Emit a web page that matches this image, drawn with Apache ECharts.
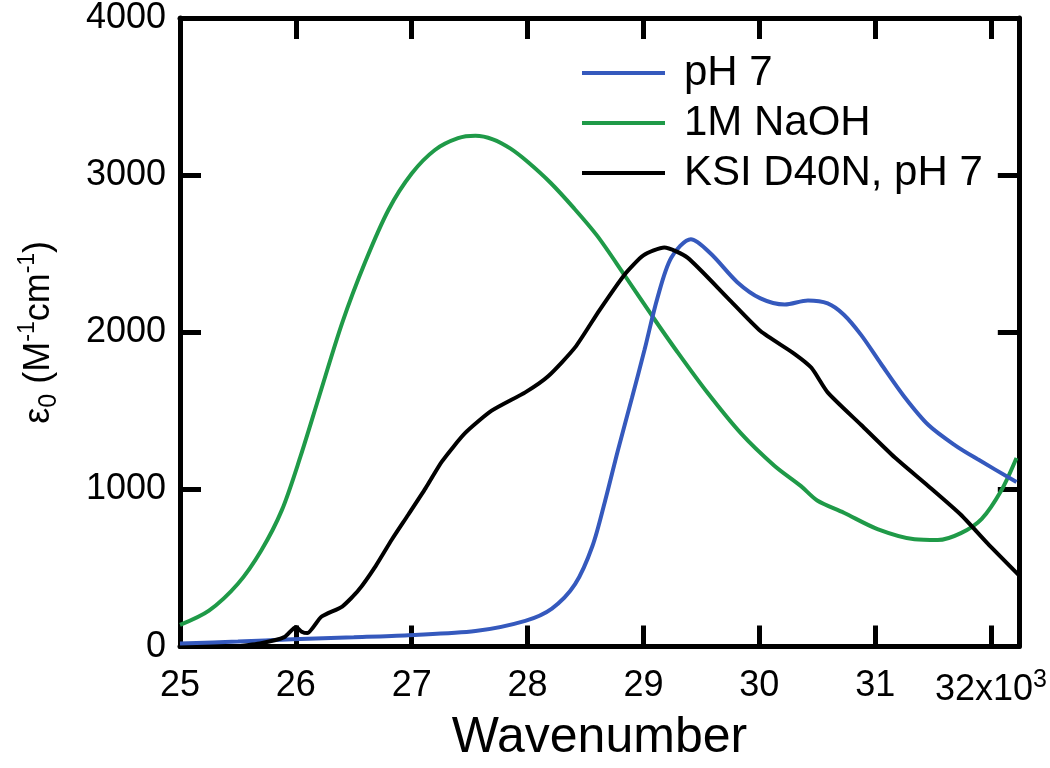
<!DOCTYPE html>
<html>
<head>
<meta charset="utf-8">
<script src="https://cdn.jsdelivr.net/npm/echarts@6/dist/echarts.min.js"></script>
<style>html,body{margin:0;padding:0;background:#fff}#c{width:1050px;height:768px}</style>
</head>
<body>
<div id="c"></div>
<script>
// Data (wavenumber in 10^3 cm^-1, epsilon in M^-1 cm^-1)
const seriesNames = ['pH 7', '1M NaOH', 'KSI D40N, pH 7'];
const xTicks = [25, 26, 27, 28, 29, 30, 31, 32];
const yTicks = [0, 1000, 2000, 3000, 4000];

const ph7X = [25.0, 25.5, 25.97, 26.5, 26.97, 27.55, 27.98, 28.21, 28.41, 28.56, 28.67, 28.78, 28.9, 29.01, 29.12, 29.24, 29.41, 29.58, 29.81, 30.01, 30.22, 30.42, 30.59, 30.73, 30.88, 31.05, 31.25, 31.46, 31.69, 31.89, 32.22];
const ph7Y = [20, 32, 47, 60, 73, 99, 164, 242, 397, 640, 930, 1250, 1580, 1890, 2216, 2475, 2592, 2501, 2319, 2216, 2177, 2203, 2184, 2112, 1982, 1800, 1592, 1410, 1281, 1190, 1047];

const naohX = [25.0, 25.25, 25.5, 25.7, 25.88, 26.04, 26.2, 26.4, 26.6, 26.8, 27.0, 27.2, 27.4, 27.55, 27.7, 27.85, 28.0, 28.2, 28.4, 28.6, 28.83, 29.08, 29.29, 29.55, 29.84, 30.13, 30.36, 30.5, 30.73, 31.02, 31.34, 31.54, 31.74, 31.92, 32.09, 32.22];
const naohY = [138, 229, 400, 610, 870, 1210, 1590, 2060, 2450, 2780, 3010, 3160, 3235, 3250, 3228, 3170, 3085, 2950, 2790, 2615, 2371, 2099, 1878, 1618, 1358, 1151, 1021, 930, 852, 748, 683, 678, 722, 813, 995, 1200];

const ksiX = [25.48, 25.7, 25.9, 26.0, 26.05, 26.1, 26.22, 26.4, 26.54, 26.69, 26.83, 26.97, 27.12, 27.26, 27.46, 27.69, 27.98, 28.18, 28.41, 28.62, 28.84, 29.0, 29.18, 29.38, 29.73, 30.01, 30.3, 30.45, 30.59, 30.88, 31.17, 31.46, 31.74, 31.97, 32.24];
const ksiY = [0, 21, 60, 125, 95, 86, 190, 255, 358, 514, 683, 839, 1008, 1177, 1358, 1501, 1618, 1722, 1904, 2140, 2370, 2490, 2540, 2475, 2216, 2008, 1865, 1774, 1618, 1410, 1203, 1021, 839, 657, 455];

const colors = ['#3559bd', '#1f9a48', '#000000'];

function pairs(xs, ys) { return xs.map((x, i) => [x, ys[i]]); }

const chart = echarts.init(document.getElementById('c'));
const FONT = 'Liberation Sans, Arial, sans-serif';
const tickStyle = { show: true, inside: true, length: 21, lineStyle: { color: '#000', width: 5 } };
const lineStyleAxis = { show: true, onZero: false, lineStyle: { color: '#000', width: 5 } };

chart.setOption({
  animation: false,
  backgroundColor: '#fff',
  grid: { left: 180, right: 30, top: 15, bottom: 99, containLabel: false },
  legend: {
    data: seriesNames,
    orient: 'vertical',
    left: 577,
    top: 43,
    icon: 'rect',
    itemWidth: 83,
    itemHeight: 4,
    itemGap: 0,
    textStyle: { fontFamily: FONT, fontSize: 42, lineHeight: 50, color: '#000', padding: [0, 0, 0, 14] }
  },
  xAxis: [{
    type: 'value', min: 25, max: 32.24, interval: 1,
    position: 'bottom',
    axisLine: lineStyleAxis, axisTick: tickStyle, splitLine: { show: false },
    axisLabel: {
      margin: 21, color: '#000', fontFamily: FONT, fontSize: 36,
      showMaxLabel: false,
      formatter: v => {
        if (Math.abs(v - Math.round(v)) > 1e-6 || xTicks.indexOf(Math.round(v)) < 0) return '';
        return v === 32 ? '32x10{sup|3}' : String(v);
      },
      rich: { sup: { fontFamily: FONT, fontSize: 25, verticalAlign: 'top', color: '#000', padding: [0, 0, 20, 0] } }
    },
    name: 'Wavenumber', nameLocation: 'middle', nameGap: 53,
    nameTextStyle: { fontFamily: FONT, fontSize: 50, color: '#000' }
  }, {
    type: 'value', min: 25, max: 32.24, interval: 1,
    position: 'top',
    axisLine: lineStyleAxis, axisTick: tickStyle, splitLine: { show: false },
    axisLabel: { show: false }
  }],
  yAxis: [{
    type: 'value', min: 0, max: 4000, interval: 1000,
    position: 'left',
    axisLine: lineStyleAxis, axisTick: tickStyle, splitLine: { show: false },
    axisLabel: {
      margin: 14, color: '#000', fontFamily: FONT, fontSize: 36,
      formatter: v => (yTicks.indexOf(v) >= 0 ? String(v) : '')
    },
    name: '{a|ε}{sub|0}{a| (M}{sup|-1}{a|cm}{sup|-1}{a|)}',
    nameLocation: 'middle', nameGap: 118, nameRotate: 90,
    nameTextStyle: {
      fontFamily: FONT, fontSize: 36, color: '#000',
      rich: {
        a: { fontFamily: FONT, fontSize: 36, color: '#000', lineHeight: 46, verticalAlign: 'middle' },
        sub: { fontFamily: FONT, fontSize: 25, color: '#000', verticalAlign: 'bottom', lineHeight: 46, padding: [12, 0, 0, 0] },
        sup: { fontFamily: FONT, fontSize: 23, color: '#000', verticalAlign: 'top', lineHeight: 46, padding: [0, 0, 14, 0] }
      }
    }
  }, {
    type: 'value', min: 0, max: 4000, interval: 1000,
    position: 'right',
    axisLine: lineStyleAxis, axisTick: tickStyle, splitLine: { show: false },
    axisLabel: { show: false }
  }],
  series: [
    { name: seriesNames[0], type: 'line', data: pairs(ph7X, ph7Y), smooth: 0.3, symbol: 'none', lineStyle: { color: colors[0], width: 4 }, itemStyle: { color: colors[0] }, z: 3 },
    { name: seriesNames[1], type: 'line', data: pairs(naohX, naohY), smooth: 0.3, symbol: 'none', lineStyle: { color: colors[1], width: 4 }, itemStyle: { color: colors[1] }, z: 2 },
    { name: seriesNames[2], type: 'line', data: pairs(ksiX, ksiY), smooth: 0.2, symbol: 'none', lineStyle: { color: colors[2], width: 4 }, itemStyle: { color: colors[2] }, z: 4 }
  ]
});
</script>
</body>
</html>
